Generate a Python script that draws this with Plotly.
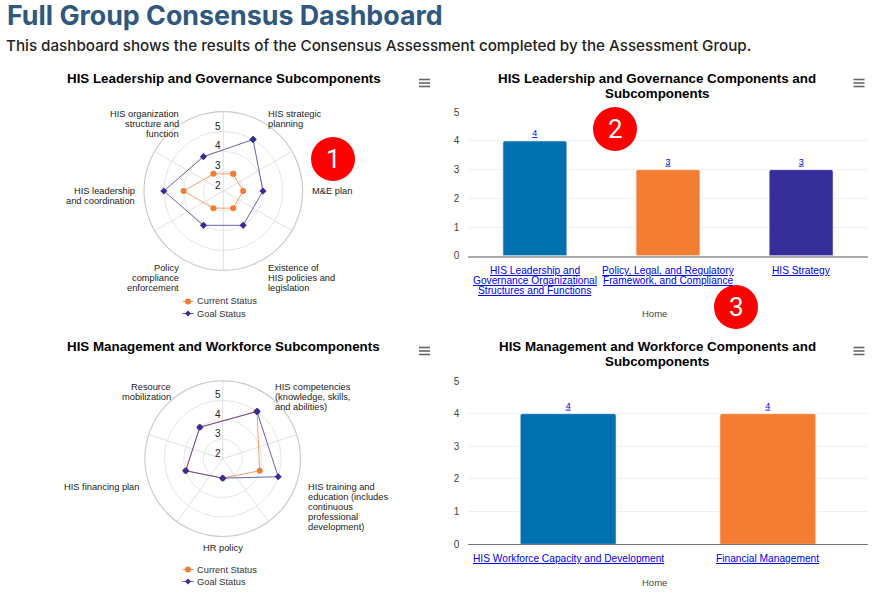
import plotly.graph_objects as go

W, H = 888, 600
ORANGE, PURPLE, BLUE = "#f37e33", "#362e98", "#0070ae"
LINK = "#0000ee"
SANS = "Liberation Sans, Arial, sans-serif"
HEAD = "Inter, Lato, sans-serif"

# ---- data ----
r1_labels = [["HIS strategic", "planning"], ["M&E plan"], ["Existence of", "HIS policies and", "legislation"],
             ["Policy", "compliance", "enforcement"], ["HIS leadership", "and coordination"],
             ["HIS organization", "structure and", "function"]]
r1_current = [3, 3, 3, 3, 4, 3]
r1_goal = [5, 4, 4, 4, 5, 4]
r1_angles = [30, 90, 150, 210, 270, 330]
r1_spokes = [0, 60, 120, 180, 240, 300]

r2_labels = [["HIS competencies", "(knowledge, skills,", "and abilities)"],
             ["HIS training and", "education (includes", "continuous", "professional", "development)"],
             ["HR policy"], ["HIS financing plan"], ["Resource", "mobilization"]]
r2_current = [5, 4, 3, 4, 4]
r2_goal = [5, 5, 3, 4, 4]
r2_angles = [36, 108, 180, 252, 324]
r2_spokes = [0, 72, 144, 216, 288]

radial_ticks = [2, 3, 4, 5]
radial_range = [2, 6]

b1_categories = [["HIS Leadership and", "Governance Organizational", "Structures and Functions"],
                 ["Policy, Legal, and Regulatory", "Framework, and Compliance"], ["HIS Strategy"]]
b1_values = [4, 3, 3]
b1_colors = [BLUE, ORANGE, PURPLE]
b2_categories = [["HIS Workforce Capacity and Development"], ["Financial Management"]]
b2_values = [4, 4]
b2_colors = [BLUE, ORANGE]

# ---- helpers ----
def px(x):
    return x / W

def py(y):
    return 1 - y / H

fig = go.Figure()
ann = []
shapes = []
PAD = {"left": -2, "right": 2, "center": 0}  # cancels the annotation's own inner padding

def text(x, y, s, size=10, color="#222", xanchor="left", family=SANS, weight=None, under=False, xref="paper"):
    font = dict(size=size, color=color, family=family)
    if weight:
        font["weight"] = weight
    if under:
        font["lineposition"] = "under"
    ann.append(dict(x=x if xref != "paper" else px(x + PAD[xanchor]), y=py(y), xref=xref, yref="paper", text=s,
                    showarrow=False, xanchor=xanchor, yanchor="middle", align=xanchor, font=font))

def lines(x, ymid, rows, step=10, **kw):
    y = ymid - step * (len(rows) - 1) / 2
    for row in rows:
        text(x, y, row, **kw)
        y += step

def close(v):
    return list(v) + [v[0]]

def radar(sub, cx, cy, R, angles, spokes, current, goal):
    fig.add_trace(go.Scatterpolar(r=close(current), theta=close(angles), mode="lines+markers", name="Current Status",
                                  subplot=sub, showlegend=False, hoverinfo="skip",
                                  line=dict(color="rgba(243,126,51,0.75)", width=1),
                                  marker=dict(color=ORANGE, size=6, symbol="circle")))
    fig.add_trace(go.Scatterpolar(r=close(goal), theta=close(angles), mode="lines+markers", name="Goal Status",
                                  subplot=sub, showlegend=False, hoverinfo="skip",
                                  line=dict(color="rgba(54,46,152,0.75)", width=1),
                                  marker=dict(color=PURPLE, size=5.5, symbol="diamond")))
    lo, hi = radial_range
    for t in radial_ticks:
        text(cx - 5, cy - (t - lo) / (hi - lo) * R - 5.5, str(t), size=10, color="#222", xanchor="center")
    fig.update_layout({sub: dict(
        domain=dict(x=[px(cx - R), px(cx + R)], y=[py(cy + R), py(cy - R)]),
        bgcolor="rgba(0,0,0,0)",
        radialaxis=dict(range=radial_range, tickvals=[3, 4, 5, 6], showticklabels=False, ticks="", showline=False,
                        gridcolor="#e6e6e6", gridwidth=1, angle=90),
        angularaxis=dict(rotation=90, direction="clockwise", tickmode="array", tickvals=spokes,
                         showticklabels=False, ticks="", gridcolor="#e0e0e0", gridwidth=1,
                         linecolor="#cccccc", linewidth=1.2, thetaunit="degrees"),
    )})

def bars(idx, categories, values, colors, x0, x1, y5, y0, base_color, base_width, label_y):
    xa, ya = ("xaxis", "yaxis") if idx == 1 else (f"xaxis{idx}", f"yaxis{idx}")
    xs, ys = xa.replace("axis", ""), ya.replace("axis", "")
    pos = list(range(len(values)))
    fig.add_trace(go.Bar(x=pos, y=values, xaxis=xs, yaxis=ys, width=0.48, showlegend=False,
                         marker=dict(color=colors, cornerradius=2, line=dict(color="rgba(255,255,255,0.55)", width=1)),
                         text=[str(v) for v in values], textposition="outside", cliponaxis=False,
                         textangle=0, hoverinfo="skip",
                         textfont=dict(size=9, color=LINK, family=SANS, lineposition="under")))
    fig.update_layout({
        xa: dict(domain=[px(x0), px(x1)], anchor=ys, range=[-0.5, len(values) - 0.5], tickvals=pos,
                 showticklabels=False, ticks="", showgrid=False, zeroline=False, showline=True,
                 linecolor=base_color, linewidth=base_width, automargin=False),
        ya: dict(domain=[py(y0), py(y5)], anchor=xs, range=[0, 5], tickvals=[0, 1, 2, 3, 4, 5],
                 ticks="", showgrid=True, gridcolor="#f0f0f0", gridwidth=1, zeroline=False, showline=False,
                 ticklabelstandoff=8, tickfont=dict(size=10, color="#444", family=SANS), automargin=False),
    })
    for p, rows in zip(pos, categories):
        y = label_y
        for row in rows:
            text(p, y, row, size=10.2, color=LINK, xanchor="center", under=True, xref=xs)
            y += 10

def hamburger(x, y):
    for dy in (-3.5, 0, 3.5):
        shapes.append(dict(type="line", xref="paper", yref="paper", x0=px(x - 5.5), x1=px(x + 5.5),
                           y0=py(y + dy), y1=py(y + dy), line=dict(color="#666", width=1.6)))

def badge(x, y, label):
    shapes.append(dict(type="circle", xref="paper", yref="paper", x0=px(x - 22), x1=px(x + 22),
                       y0=py(y + 22), y1=py(y - 22), fillcolor="#ff0000", line=dict(width=0), layer="above"))
    text(x, y, label, size=26, color="#ffffff", xanchor="center", family="Roboto, Arial, sans-serif")

def legend_key(y):
    # swatches and text of the legend under a radar
    cx = 188
    y1, y2 = y, y + 12
    shapes.append(dict(type="line", xref="paper", yref="paper", x0=px(182.5), x1=px(193.5), y0=py(y1), y1=py(y1),
                       line=dict(color="rgba(243,126,51,0.8)", width=1)))
    shapes.append(dict(type="circle", xref="paper", yref="paper", x0=px(cx - 3), x1=px(cx + 3),
                       y0=py(y1 + 3), y1=py(y1 - 3), fillcolor=ORANGE, line=dict(width=0)))
    shapes.append(dict(type="line", xref="paper", yref="paper", x0=px(182.5), x1=px(193.5), y0=py(y2), y1=py(y2),
                       line=dict(color="rgba(54,46,152,0.8)", width=1)))
    d = 3
    shapes.append(dict(type="path", xref="paper", yref="paper", fillcolor=PURPLE, line=dict(width=0),
                       path=f"M {px(cx)} {py(y2 - d)} L {px(cx + d)} {py(y2)} L {px(cx)} {py(y2 + d)} L {px(cx - d)} {py(y2)} Z"))
    text(197.3, y1, "Current Status", size=9.3, color="#333")
    text(197.3, y2, "Goal Status", size=9.3, color="#333")

# ---- charts ----
radar("polar", 223.3, 191, 79.3, r1_angles, r1_spokes, r1_current, r1_goal)
radar("polar2", 222.7, 458.7, 77.8, r2_angles, r2_spokes, r2_current, r2_goal)
bars(1, b1_categories, b1_values, b1_colors, 468.3, 867.7, 112.3, 255.7, "#a8a8a8", 2, 270.7)
bars(2, b2_categories, b2_values, b2_colors, 468.3, 867.7, 381, 544.3, "#777777", 1, 558.7)

r1_pos = [(268.3, 118.7, "left"), (312.3, 190.7, "left"), (268.3, 277.7, "left"),
          (178.7, 277.7, "right"), (135, 195.7, "right"), (178.7, 123.7, "right")]
for rows, (x, y, a) in zip(r1_labels, r1_pos):
    lines(x, y, rows, size=9.3, xanchor=a)

r2_pos = [(275.3, 397, "left"), (308.3, 506.7, "left"), (223, 548, "center"),
          (139, 486.7, "right"), (170.7, 391.7, "right")]
for rows, (x, y, a) in zip(r2_labels, r2_pos):
    lines(x, y, rows, size=9.3, xanchor=a)

# titles
T = dict(size=13.35, color="#000000", xanchor="center")
text(223.7, 78.3, "<b>HIS Leadership and Governance Subcomponents</b>", **T)
text(223.7, 346.7, "<b>HIS Management and Workforce Subcomponents</b>", **T)
lines(657.3, 85.8, ["<b>HIS Leadership and Governance Components and</b>", "<b>Subcomponents</b>"], step=15, **T)
lines(657.3, 354, ["<b>HIS Management and Workforce Components and</b>", "<b>Subcomponents</b>"], step=15, **T)
text(654.5, 313.3, "Home", size=9.5, color="#444", xanchor="center")
text(654.5, 582.7, "Home", size=9.5, color="#444", xanchor="center")

legend_key(301.5)
legend_key(569.5)

# header
text(7, 14.5, "Full Group Consensus Dashboard", size=26.8, color="#30587f", family=HEAD, weight=700)
text(6, 45.5, "This dashboard shows the results of the Consensus Assessment completed by the Assessment Group.",
     size=15.2, color="#222", family=HEAD, weight=500)

for x, y in [(424.5, 83), (859, 83), (424.5, 351), (859, 351)]:
    hamburger(x, y)
badge(333, 159, "1")
badge(615, 129, "2")
badge(736, 307, "3")

fig.update_layout(
    width=W, height=H, margin=dict(l=0, r=0, t=0, b=0), paper_bgcolor="white", plot_bgcolor="white",
    showlegend=False, annotations=ann, shapes=shapes,
)
fig.write_html("out.html", config=dict(displayModeBar=False),
               post_script="document.body.style.margin='0';document.body.style.overflow='hidden';")
